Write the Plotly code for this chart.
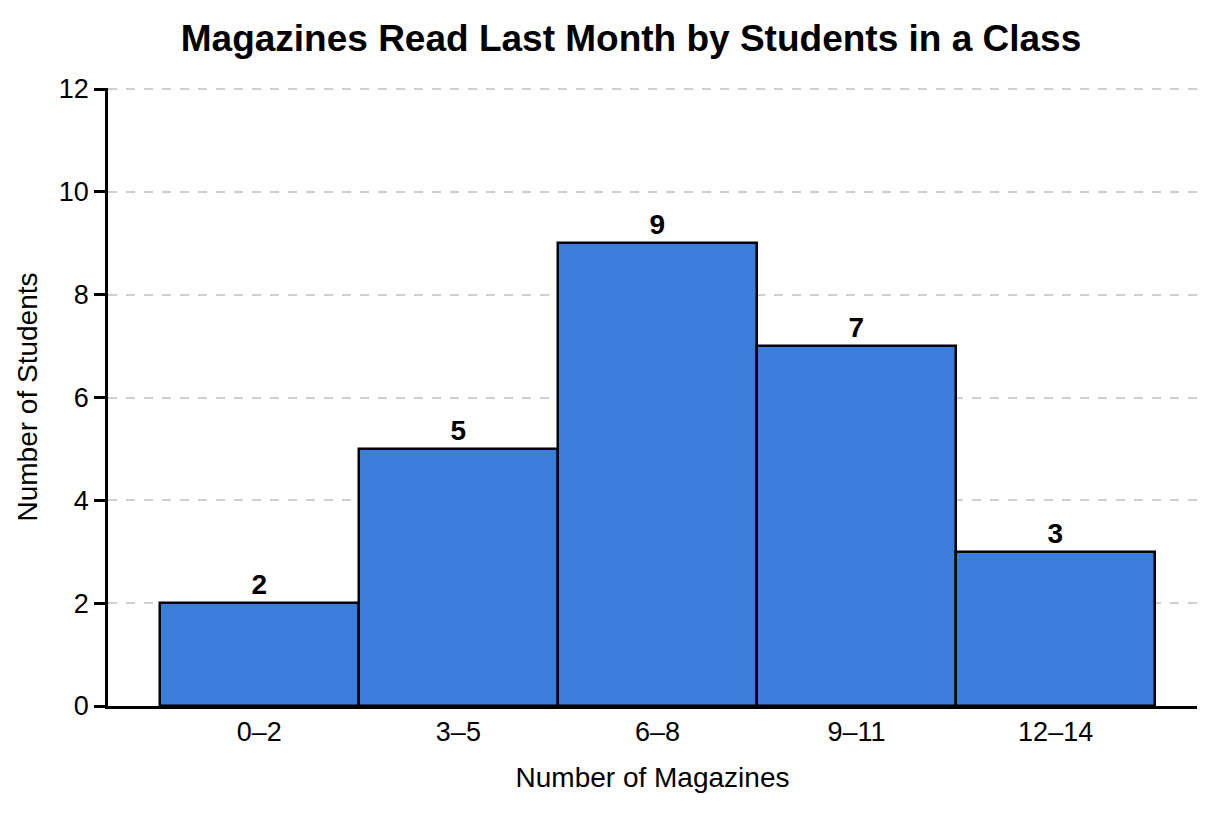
import plotly.graph_objects as go

# 잡지 읽은 수 구간별 학생 수
bins = ["0–2", "3–5", "6–8", "9–11", "12–14"]
students = [2, 5, 9, 7, 3]
y_ticks = [0, 2, 4, 6, 8, 10, 12]

font_main = "Liberation Sans, Arial"

fig = go.Figure(go.Bar(x=bins, y=students,
                       width=1,
                       marker_color="#3B7DDB",
                       marker_line_color="black",
                       marker_line_width=2.5,
                       text=[f"<b>{v}</b>" for v in students],
                       textposition="outside",
                       textfont=dict(size=28, color="black", family=font_main),
                       cliponaxis=False))

# 페이지 body 여백(8px) 감안해서 margin 조정
fig.update_layout(title=dict(text="<b>Magazines Read Last Month by Students in a Class</b>",
                             x=0.509, y=0.963, xanchor="center", yanchor="middle",
                             font=dict(size=37, color="black", family=font_main)),
                  width=1224, height=816,
                  margin=dict(l=100, r=35, t=80, b=118),
                  plot_bgcolor="white", paper_bgcolor="white",
                  font=dict(family=font_main, color="black", size=26),
                  bargap=0, showlegend=False)

fig.update_xaxes(title=dict(text="Number of Magazines", standoff=22, font=dict(size=28)),
                 range=[-0.76, 4.71], automargin=False,
                 showline=True, linecolor="black", linewidth=2.5,
                 ticks="", tickfont=dict(size=27), showgrid=False)

fig.update_yaxes(title=dict(text="Number of Students", standoff=14, font=dict(size=28)),
                 range=[0, 12.02], tickvals=y_ticks, automargin=False,
                 showline=True, linecolor="black", linewidth=2.5,
                 ticks="outside", ticklen=11, tickwidth=2.5, tickcolor="black",
                 tickfont=dict(size=27),
                 showgrid=True, gridcolor="#CFCFCF", griddash="dash", gridwidth=1.5,
                 zeroline=False)

fig.write_html("out.html")
